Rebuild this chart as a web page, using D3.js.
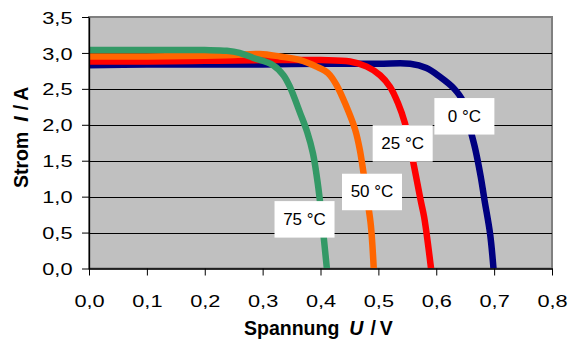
<!DOCTYPE html>
<html>
<head>
<meta charset="utf-8">
<script src="https://cdn.jsdelivr.net/npm/d3@7"></script>
<style>
  body { margin: 0; background: #fff; }
  svg { display: block; font-family: "Liberation Sans", Arial, sans-serif; }
</style>
</head>
<body>
<svg id="chart" width="572" height="349"></svg>
<script>
// U-I curves (Spannung in V, Strom in A), one pair of arrays per temperature
const u0  = [0, 0.1, 0.2, 0.3, 0.4, 0.5, 0.555, 0.583, 0.606, 0.63, 0.6467, 0.6613, 0.6678, 0.6768, 0.6834, 0.6929, 0.6989];
const i0  = [2.83, 2.84, 2.84, 2.84, 2.85, 2.85, 2.85, 2.79, 2.67, 2.51, 2.32, 1.86, 1.65, 1.28, 0.95, 0.49, 0];

const u25 = [0, 0.1, 0.2, 0.3, 0.4, 0.451, 0.48, 0.503, 0.52, 0.534, 0.546, 0.56, 0.573, 0.579, 0.591];
const i25 = [2.88, 2.88, 2.89, 2.90, 2.90, 2.88, 2.81, 2.69, 2.53, 2.30, 2.02, 1.49, 0.95, 0.72, 0];

const u50 = [0, 0.1, 0.2, 0.25, 0.295, 0.33, 0.365, 0.393, 0.413, 0.428, 0.445, 0.46, 0.468, 0.481, 0.487, 0.492];
const i50 = [2.95, 2.95, 2.96, 2.97, 2.985, 2.95, 2.90, 2.81, 2.72, 2.55, 2.25, 1.93, 1.65, 0.95, 0.6, 0];

const u75 = [0, 0.1, 0.2, 0.238, 0.26, 0.284, 0.318, 0.336, 0.347, 0.365, 0.377, 0.387, 0.395, 0.401, 0.406, 0.411];
const i75 = [3.04, 3.04, 3.04, 3.03, 3.0, 2.93, 2.83, 2.69, 2.53, 2.16, 1.9, 1.6, 1.2, 0.8, 0.4, 0];

const temps = ["0 °C", "25 °C", "50 °C", "75 °C"];
const colors = ["#000080", "#ff0000", "#ff6600", "#339966"];
// where the temperature labels sit, in data units
const labelU = [0.6486, 0.542, 0.489, 0.3724];
const labelI = [2.118, 1.741, 1.065, 0.684];

const xTicks = [0, 0.1, 0.2, 0.3, 0.4, 0.5, 0.6, 0.7, 0.8];
const yTicks = [0, 0.5, 1.0, 1.5, 2.0, 2.5, 3.0, 3.5];

const svg = d3.select("#chart");
const plotLeft = 89, plotRight = 552, plotTop = 17, plotBottom = 268.5;

const x = d3.scaleLinear().domain([0, 0.8]).range([plotLeft, plotRight]);
const y = d3.scaleLinear().domain([0, 3.5]).range([plotBottom, plotTop]);

const de = d3.formatLocale({ decimal: ",", thousands: ".", grouping: [3], currency: ["", "€"] });
const fmt = de.format(".1f");

// plot area
svg.append("rect")
    .attr("x", plotLeft).attr("y", plotTop)
    .attr("width", plotRight - plotLeft).attr("height", plotBottom - plotTop)
    .attr("fill", "#c0c0c0")
    .attr("stroke", "#808080")
    .attr("stroke-width", 2);

// horizontal grid lines
svg.append("g")
    .selectAll("line")
    .data(yTicks.filter(d => d > 0 && d < 3.5))
    .join("line")
    .attr("x1", plotLeft).attr("x2", plotRight)
    .attr("y1", d => Math.round(y(d)) + 0.5)
    .attr("y2", d => Math.round(y(d)) + 0.5)
    .attr("stroke", "#000")
    .attr("stroke-width", 1);

// curves
svg.append("clipPath").attr("id", "plotClip")
    .append("rect")
    .attr("x", plotLeft).attr("y", plotTop - 5)
    .attr("width", plotRight - plotLeft).attr("height", plotBottom - plotTop + 5);

const series = [[u0, i0], [u25, i25], [u50, i50], [u75, i75]]
    .map(([u, i]) => u.map((v, k) => [v, i[k]]));

const line = d3.line()
    .curve(d3.curveCatmullRom.alpha(0.5))
    .x(d => x(d[0]))
    .y(d => y(d[1]));

svg.append("g")
    .attr("clip-path", "url(#plotClip)")
    .selectAll("path")
    .data(series)
    .join("path")
    .attr("d", line)
    .attr("fill", "none")
    .attr("stroke", (d, k) => colors[k])
    .attr("stroke-width", 6.5)
    .attr("stroke-linejoin", "round");

// axes
const stretch = 1.28; // tick labels are drawn wide in the original

const yAxis = svg.append("g")
    .attr("transform", `translate(${plotLeft},0)`)
    .call(d3.axisLeft(y).tickValues(yTicks).tickSize(7).tickSizeOuter(0).tickFormat(fmt));
yAxis.selectAll("text")
    .attr("x", -16.5 / stretch)
    .attr("dy", "0.36em")
    .attr("transform", `scale(${stretch},1)`);

const xAxis = svg.append("g")
    .attr("transform", `translate(0,${plotBottom})`)
    .call(d3.axisBottom(x).tickValues(xTicks).tickSize(7).tickSizeOuter(0).tickFormat(fmt));
xAxis.selectAll("text")
    .attr("y", 39)
    .attr("dy", null)
    .attr("transform", `scale(${stretch},1)`);

[xAxis, yAxis].forEach(a => {
    a.attr("font-family", null).attr("font-size", null);
    a.selectAll("text").attr("font-size", 17).attr("fill", "#000");
    a.selectAll("line").attr("stroke", "#000");
    a.select(".domain").attr("stroke", "#000").attr("stroke-width", 1.3);
});

// axis titles
const xt = svg.append("text")
    .attr("x", 244).attr("y", 334.5)
    .attr("font-size", 19.5).attr("font-weight", "bold");
xt.append("tspan").text("Spannung");
xt.append("tspan").attr("dx", 10).attr("font-style", "italic").text("U");
xt.append("tspan").attr("dx", 7).text("/");
xt.append("tspan").attr("dx", 4).text("V");

const yt = svg.append("text")
    .attr("transform", "translate(28.3,188) rotate(-90)")
    .attr("font-size", 19.5).attr("font-weight", "bold");
yt.append("tspan").text("Strom");
yt.append("tspan").attr("dx", 10).attr("font-style", "italic").text("I");
yt.append("tspan").attr("dx", 6).text("/");
yt.append("tspan").attr("dx", 4).text("A");

// temperature labels
const boxW = 60, boxH = 36.5;
const labels = svg.append("g")
    .selectAll("g")
    .data(temps)
    .join("g")
    .attr("transform", (d, k) => `translate(${x(labelU[k])},${y(labelI[k])})`);

labels.append("rect")
    .attr("x", -boxW / 2).attr("y", -boxH / 2)
    .attr("width", boxW).attr("height", boxH)
    .attr("fill", "#fff");

labels.append("text")
    .attr("text-anchor", "middle")
    .attr("y", 5.5)
    .attr("font-size", 17)
    .text(d => d);
</script>
</body>
</html>
